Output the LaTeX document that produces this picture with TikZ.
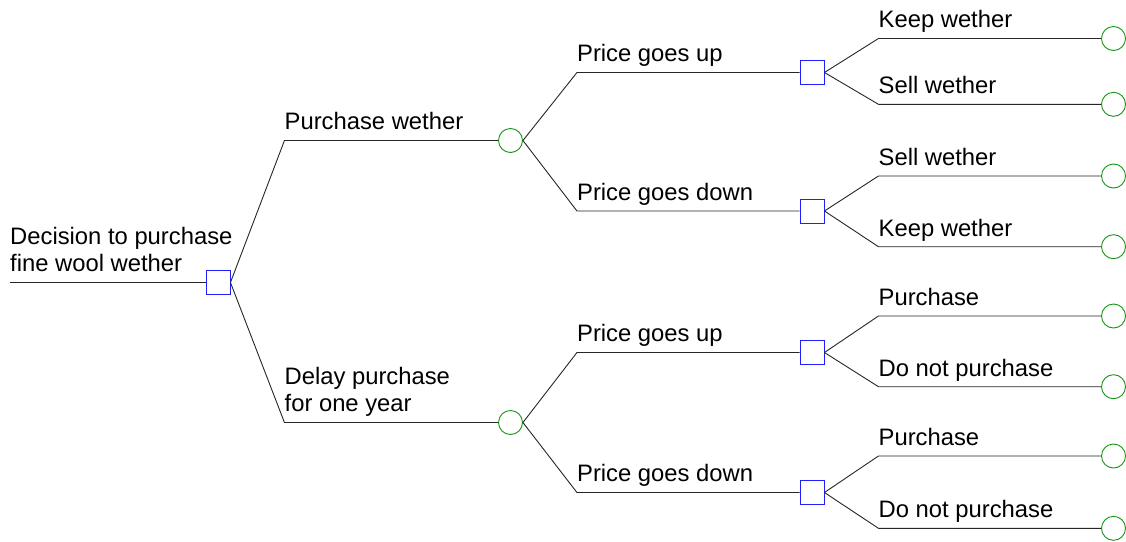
\documentclass[tikz,border=0pt]{standalone}
\usepackage{fontspec}
\setmainfont{Liberation Sans}
\usepackage{tikz}
\usetikzlibrary{calc}
\definecolor{choiceblue}{RGB}{30,30,255}
\definecolor{chancegreen}{RGB}{20,150,20}
\tikzset{
  choice/.style={draw=choiceblue, line width=0.9pt, fill=white, minimum size=24pt, inner sep=0pt},
  chance/.style={draw=chancegreen, line width=0.9pt, fill=white, circle, minimum size=24pt, inner sep=0pt},
  branch/.style={draw=black!85, line width=0.9pt},
  lbl/.style={anchor=south west, inner sep=0pt, text depth=0pt, align=left,
    font=\fontsize{23.8}{27}\selectfont}
}

\begin{document}
\begin{tikzpicture}[x=1pt, y=-1pt]
  \useasboundingbox (0,0) rectangle (1126,541);
  % decision and chance nodes
  \node[choice] (root) at (218,282.5) {};
  \node[chance] (pw) at (510.5,140.5) {};
  \node[chance] (dp) at (510.5,422.5) {};
  \node[choice] (pwup) at (812,72.5) {};
  \node[choice] (pwdown) at (812,211) {};
  \node[choice] (dpup) at (812,352.5) {};
  \node[choice] (dpdown) at (812,492.5) {};
  % outcomes
  \foreach \n/\y in {1/38.5, 2/104.3, 3/176, 4/246.7, 5/316, 6/386.7, 7/456, 8/528.3}
    \node[chance] (end\n) at (1113.5,\y) {};
  % root stem
  \coordinate (start) at (10,282.5);
  \draw[branch] (start) -- (root.west);
  \node[lbl] at ([yshift=10.5pt]start) {Decision to purchase\\fine wool wether};
  % branches
  \foreach \a/\b/\txt in {root/pw/{Purchase wether}, root/dp/{Delay purchase\\for one year},
      pw/pwup/{Price goes up}, pw/pwdown/{Price goes down},
      dp/dpup/{Price goes up}, dp/dpdown/{Price goes down},
      pwup/end1/{Keep wether}, pwup/end2/{Sell wether},
      pwdown/end3/{Sell wether}, pwdown/end4/{Keep wether},
      dpup/end5/{Purchase}, dpup/end6/{Do not purchase},
      dpdown/end7/{Purchase}, dpdown/end8/{Do not purchase}} {
    \draw[branch] (\a.east) -- ([xshift=54pt]\a.east |- \b.west) coordinate (elbow) -- (\b.west);
    \node[lbl] at ([yshift=10.5pt]elbow) {\txt};
  }
\end{tikzpicture}
\end{document}
